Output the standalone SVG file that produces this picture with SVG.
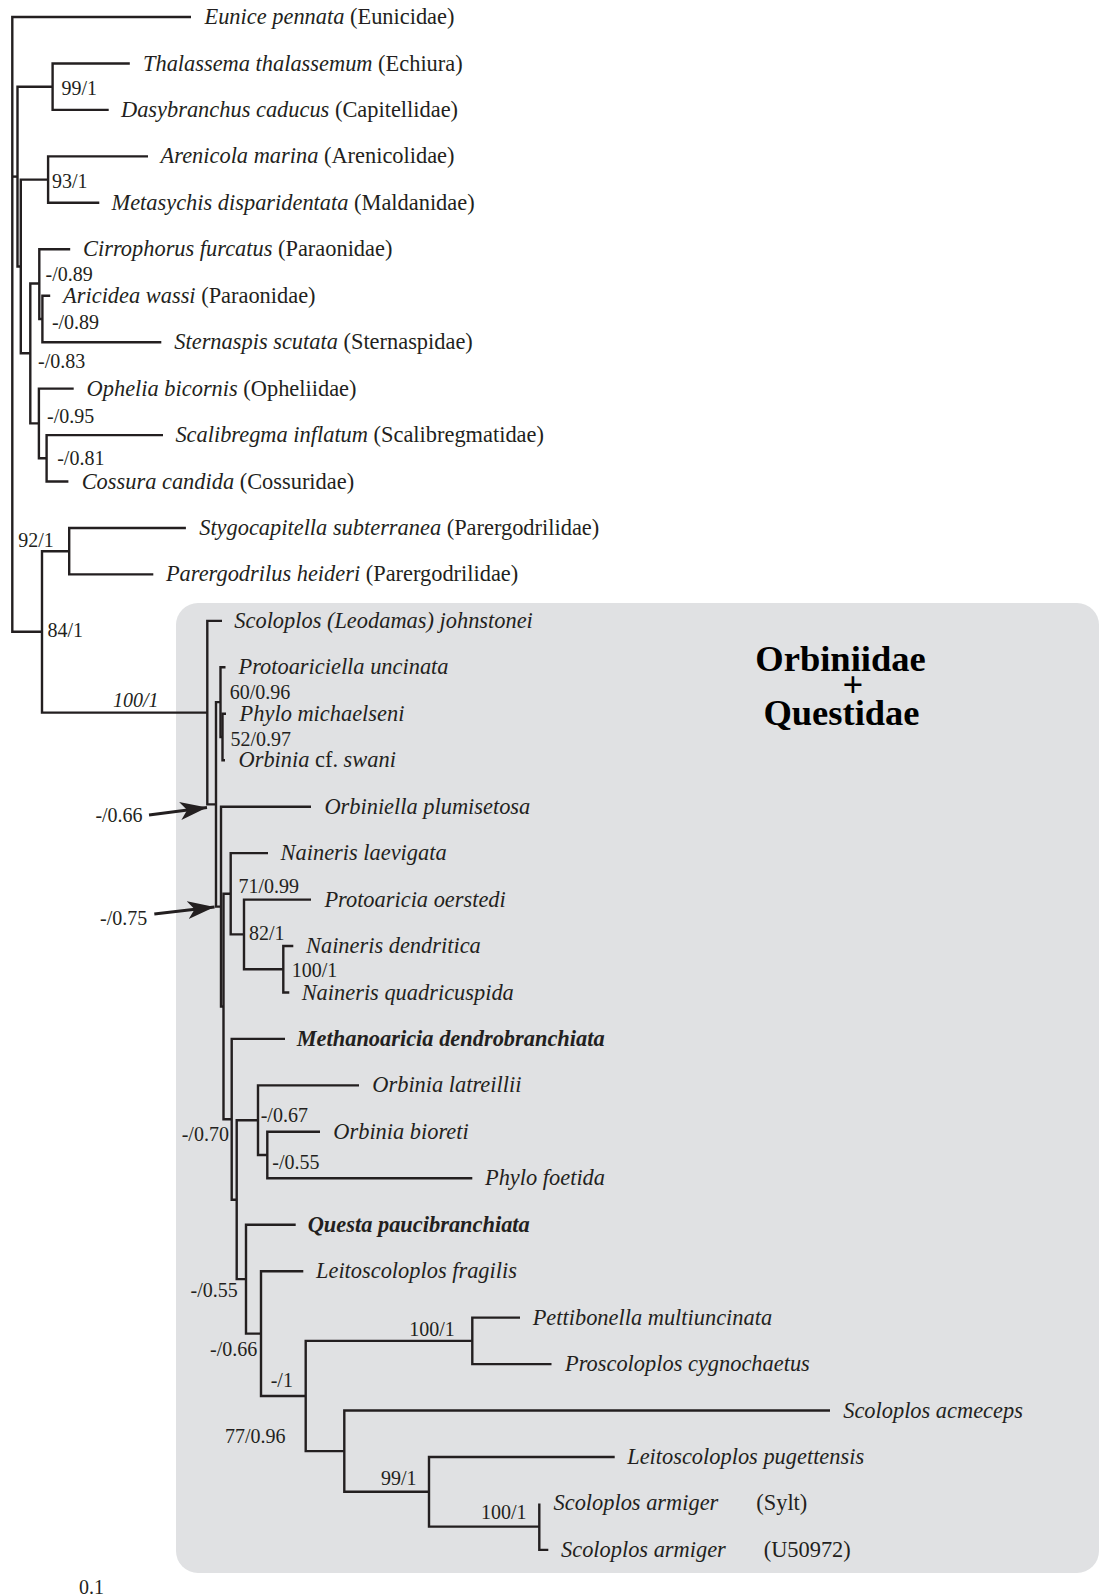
<svg xmlns="http://www.w3.org/2000/svg" width="1099" height="1595" viewBox="0 0 1099 1595">
<defs>
<style>
.t{font-family:"Liberation Serif","Times New Roman",serif;font-size:22.4px;fill:#231f20}
.i{font-style:italic}
.r{font-style:normal}
.b{font-weight:bold}
.s{font-family:"Liberation Serif","Times New Roman",serif;font-size:20px;fill:#231f20}
.h{font-family:"Liberation Serif","Times New Roman",serif;font-size:36.5px;font-weight:bold;fill:#000;text-anchor:middle}
.br{fill:none;stroke:#231f20;stroke-width:2.4;stroke-linejoin:miter}
.ar{fill:none;stroke:#231f20;stroke-width:3}
</style>
<marker id="ah" markerUnits="userSpaceOnUse" markerWidth="30" markerHeight="20" refX="27" refY="9" orient="auto">
<path d="M0,0 L27,9 L0,18 L7,9 z" fill="#231f20"/>
</marker>
</defs>
<rect width="1099" height="1595" fill="#fff"/>
<rect id="clade-box" x="176" y="603" width="923" height="970" rx="22" ry="22" fill="#e0e1e3"/>

<g id="connectors" class="br">
<path d="M191,17 H12.3 V631.7 H42"/>
<path d="M12.3,176.6 H17.5"/>
<path d="M52.6,86.7 H17.5 V266.5 H20.8"/>
<path d="M129.8,63.5 H52.6 V109.9 H108.7"/>
<path d="M48.1,179.6 H20.8 V353.3 H30.3"/>
<path d="M148,156.4 H48.1 V202.8 H99.3"/>
<path d="M39.3,283.5 H30.3 V423.4 H38.9"/>
<path d="M70.2,249.3 H39.3 V319 H42.4"/>
<path d="M50.2,295.7 H42.4 V342.2 H161.3"/>
<path d="M73.7,388.6 H38.9 V458.3 H46.6"/>
<path d="M163,435.1 H46.6 V481.5 H68.4"/>
<path d="M69.2,551.2 H42 V712.6 H207.3"/>
<path d="M185.9,528 H69.2 V574.4 H153.3"/>
<path d="M222,620.9 H207.3 V804.4 H216"/>
<path d="M220.5,702.15 H216 V906.6 H221"/>
<path d="M225.5,667.3 H220.5 V737 H222.5"/>
<path d="M226,713.8 H222.5 V760.2 H225"/>
<path d="M311,806.7 H221 V1006.55 H223.5"/>
<path d="M230.7,893.8 H223.5 V1119.3 H231.7"/>
<path d="M268,853.1 H230.7 V934.4 H244"/>
<path d="M311,899.6 H244 V969.25 H283.3"/>
<path d="M293.3,946 H283.3 V992.5 H289.3"/>
<path d="M285,1038.9 H231.7 V1199.7 H236.7"/>
<path d="M258,1120.2 H236.7 V1279.15 H246"/>
<path d="M359,1085.4 H258 V1155.05 H267.3"/>
<path d="M320,1131.8 H267.3 V1178.3 H472.3"/>
<path d="M295.7,1224.7 H246 V1333.6 H261"/>
<path d="M303.3,1271.2 H261 V1396 H305.7"/>
<path d="M472.3,1340.85 H305.7 V1451.15 H344.3"/>
<path d="M520,1317.6 H472.3 V1364.1 H551.5"/>
<path d="M830,1410.5 H344.3 V1491.8 H429"/>
<path d="M614.7,1457 H429 V1526.65 H539.3"/>
<path d="M539.3,1503.4 V1549.9 H548.3"/>
</g>

<g id="taxa">
<g id="t-eunice"><text class="t" x="204.5" y="24"><tspan class="i">Eunice pennata</tspan> (Eunicidae)</text></g>
<g id="t-thalassema"><text class="t" x="143" y="70.5"><tspan class="i">Thalassema thalassemum</tspan> (Echiura)</text></g>
<g id="t-dasybranchus"><text class="t" x="121" y="116.9"><tspan class="i">Dasybranchus caducus</tspan> (Capitellidae)</text></g>
<g id="t-arenicola"><text class="t" x="160.6" y="163.4"><tspan class="i">Arenicola marina</tspan> (Arenicolidae)</text></g>
<g id="t-metasychis"><text class="t" x="111.5" y="209.8"><tspan class="i">Metasychis disparidentata</tspan> (Maldanidae)</text></g>
<g id="t-cirrophorus"><text class="t" x="83.1" y="256.3"><tspan class="i">Cirrophorus furcatus</tspan> (Paraonidae)</text></g>
<g id="t-aricidea"><text class="t" x="63.1" y="302.7"><tspan class="i">Aricidea wassi</tspan> (Paraonidae)</text></g>
<g id="t-sternaspis"><text class="t" x="174.3" y="349.2"><tspan class="i">Sternaspis scutata</tspan> (Sternaspidae)</text></g>
<g id="t-ophelia"><text class="t" x="86.6" y="395.6"><tspan class="i">Ophelia bicornis</tspan> (Opheliidae)</text></g>
<g id="t-scalibregma"><text class="t" x="175.4" y="442.1"><tspan class="i">Scalibregma inflatum</tspan> (Scalibregmatidae)</text></g>
<g id="t-cossura"><text class="t" x="81.7" y="488.5"><tspan class="i">Cossura candida</tspan> (Cossuridae)</text></g>
<g id="t-stygocapitella"><text class="t" x="199.2" y="535"><tspan class="i">Stygocapitella subterranea</tspan> (Parergodrilidae)</text></g>
<g id="t-parergodrilus"><text class="t" x="165.9" y="581.4"><tspan class="i">Parergodrilus heideri</tspan> (Parergodrilidae)</text></g>
<g id="t-scoloplos-johnstonei"><text class="t i" x="234.3" y="627.9">Scoloplos (Leodamas) johnstonei</text></g>
<g id="t-protoariciella"><text class="t i" x="238.5" y="674.3">Protoariciella uncinata</text></g>
<g id="t-phylo-michaelseni"><text class="t i" x="239.6" y="720.8">Phylo michaelseni</text></g>
<g id="t-orbinia-swani"><text class="t" x="238.5" y="767.2"><tspan class="i">Orbinia</tspan> cf. <tspan class="i">swani</tspan></text></g>
<g id="t-orbiniella"><text class="t i" x="324.4" y="813.7">Orbiniella plumisetosa</text></g>
<g id="t-naineris-laevigata"><text class="t i" x="280.6" y="860.1">Naineris laevigata</text></g>
<g id="t-protoaricia"><text class="t i" x="324.4" y="906.6">Protoaricia oerstedi</text></g>
<g id="t-naineris-dendritica"><text class="t i" x="306" y="953">Naineris dendritica</text></g>
<g id="t-naineris-quadricuspida"><text class="t i" x="301.7" y="999.5">Naineris quadricuspida</text></g>
<g id="t-methanoaricia"><text class="t i b" x="296.7" y="1045.9">Methanoaricia dendrobranchiata</text></g>
<g id="t-orbinia-latreillii"><text class="t i" x="372.3" y="1092.4">Orbinia latreillii</text></g>
<g id="t-orbinia-bioreti"><text class="t i" x="333.3" y="1138.8">Orbinia bioreti</text></g>
<g id="t-phylo-foetida"><text class="t i" x="485" y="1185.3">Phylo foetida</text></g>
<g id="t-questa"><text class="t i b" x="307.7" y="1231.7">Questa paucibranchiata</text></g>
<g id="t-leito-fragilis"><text class="t i" x="316" y="1278.2">Leitoscoloplos fragilis</text></g>
<g id="t-pettibonella"><text class="t i" x="532.7" y="1324.6">Pettibonella multiuncinata</text></g>
<g id="t-proscoloplos"><text class="t i" x="565" y="1371.1">Proscoloplos cygnochaetus</text></g>
<g id="t-scoloplos-acmeceps"><text class="t i" x="843.2" y="1417.5">Scoloplos acmeceps</text></g>
<g id="t-leito-pugettensis"><text class="t i" x="627.2" y="1464">Leitoscoloplos pugettensis</text></g>
<g id="t-scoloplos-armiger-sylt"><text class="t i" x="553.5" y="1510.4">Scoloplos armiger</text><text class="t" x="756.3" y="1510.4">(Sylt)</text></g>
<g id="t-scoloplos-armiger-u50972"><text class="t i" x="561" y="1556.9">Scoloplos armiger</text><text class="t" x="763.7" y="1556.9">(U50972)</text></g>
</g>

<g id="support-labels">
<text class="s" x="61.4" y="95">99/1</text>
<text class="s" x="51.9" y="187.7">93/1</text>
<text class="s" x="45.6" y="281">-/0.89</text>
<text class="s" x="51.9" y="329">-/0.89</text>
<text class="s" x="38" y="368.3">-/0.83</text>
<text class="s" x="47" y="423">-/0.95</text>
<text class="s" x="57.2" y="465">-/0.81</text>
<text class="s" x="18.3" y="547">92/1</text>
<text class="s" x="47.5" y="636.7">84/1</text>
<text class="s i" x="113" y="706.7">100/1</text>
<text class="s" x="229.7" y="698.5">60/0.96</text>
<text class="s" x="230.4" y="745.5">52/0.97</text>
<text class="s" x="238.5" y="893">71/0.99</text>
<text class="s" x="249" y="940">82/1</text>
<text class="s" x="291.7" y="976.7">100/1</text>
<text class="s" x="181.7" y="1141">-/0.70</text>
<text class="s" x="260.7" y="1122.3">-/0.67</text>
<text class="s" x="272.3" y="1169.3">-/0.55</text>
<text class="s" x="190.5" y="1296.5">-/0.55</text>
<text class="s" x="210" y="1356">-/0.66</text>
<text class="s" x="270.7" y="1387.3">-/1</text>
<text class="s" x="225" y="1443.3">77/0.96</text>
<text class="s" x="409.3" y="1336">100/1</text>
<text class="s" x="381" y="1485">99/1</text>
<text class="s" x="481" y="1519.3">100/1</text>
</g>

<g id="annotations">
<text class="s" x="95.4" y="821.7">-/0.66</text>
<line class="ar" x1="149" y1="815" x2="207" y2="807.5" marker-end="url(#ah)"/>
<text class="s" x="100" y="925">-/0.75</text>
<line class="ar" x1="154.3" y1="914" x2="214.5" y2="907" marker-end="url(#ah)"/>
</g>

<g id="clade-title">
<text class="h" x="840.5" y="671">Orbiniidae</text>
<text class="h" x="853" y="697">+</text>
<text class="h" x="841.5" y="725">Questidae</text>
</g>

<g id="scale"><text class="s" x="79" y="1594">0.1</text></g>
</svg>
